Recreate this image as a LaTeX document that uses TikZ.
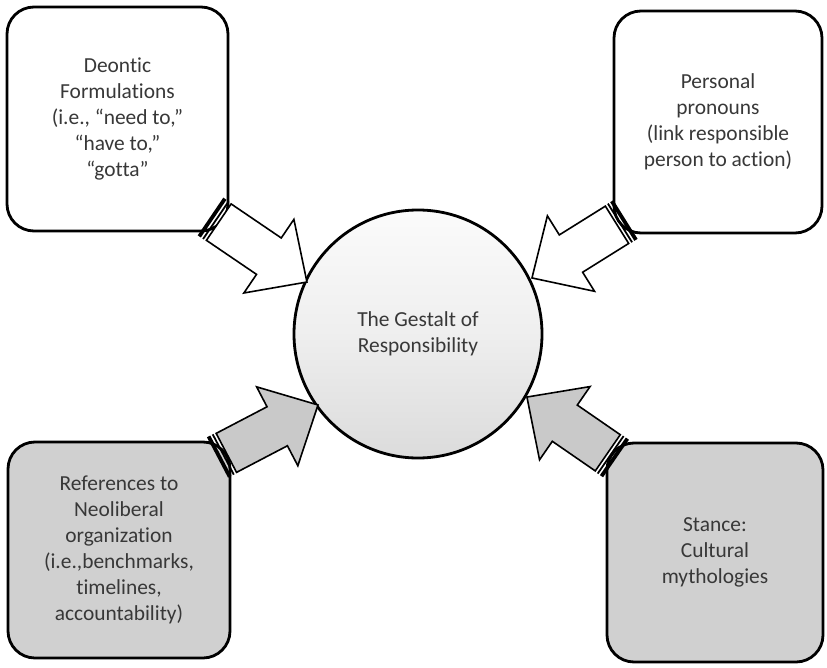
\documentclass[tikz,border=0pt]{standalone}
\usepackage{fontspec}
\setmainfont[RawFeature=-liga]{Carlito}
\definecolor{txtgray}{HTML}{383838}
\definecolor{boxgray}{HTML}{D0D0D0}
\definecolor{arrgray}{HTML}{C9C9C9}
\begin{document}
\begin{tikzpicture}[x=1bp,y=-1bp,
  box/.style={draw=black, line width=2.8bp, rounded corners=27bp, align=center,
    text=txtgray, font=\fontsize{21.5}{26}\selectfont, inner sep=0pt},
  arrowline/.style={draw=black, line width=1.6bp, line join=miter},
  pics/barrow/.style n args={2}{code={
    \fill[black] (0,-22.8) rectangle (3.8,22.8);
    \fill[black] (5.6,-22.8) rectangle (7.4,22.8);
    \draw[arrowline, fill=#2] (10,-22) -- (#1-46,-22) -- (#1-46,-44.5) -- (#1,0)
      -- (#1-46,44.5) -- (#1-46,22) -- (10,22) -- cycle;
  }},
]
\useasboundingbox (0,0) rectangle (827,668);
\fill[white] (0,0) rectangle (827,668);

% central circle
\node[circle, draw=black, line width=2.8bp, minimum size=248bp, inner sep=0pt,
  top color=gray!3, bottom color=gray!28, middle color=gray!13,
  align=center, text=txtgray, font=\fontsize{21.5}{26}\selectfont]
  (gestalt) at (418,334) {The Gestalt of\\Responsibility};

% boxes
\node[box, fill=white, minimum width=221bp, minimum height=224bp]
  (deontic) at (117.5,119) {Deontic\\Formulations\\(i.e., “need to,”\\“have to,”\\“gotta”};
\node[box, fill=white, minimum width=208bp, minimum height=222bp]
  (pronouns) at (718,122) {Personal\\pronouns\\(link responsible\\person to action)};
\node[box, fill=boxgray, minimum width=222bp, minimum height=216bp]
  (neolib) at (119,550) {References to\\Neoliberal\\organization\\(i.e.,benchmarks,\\timelines,\\accountability)};
\node[box, fill=boxgray, minimum width=216bp, minimum height=219bp]
  (stance) at (715,552.5) {Stance:\\Cultural\\mythologies};

% arrow tails
\coordinate (tlTail) at (210.5,216.5);
\coordinate (trTail) at (625.5,219.5);
\coordinate (blTail) at (217.5,457.5);
\coordinate (brTail) at (616,458.5);

% striped block arrows
\pic[rotate=-34.2] at (tlTail) {barrow={116.6}{white}};
\pic[rotate=-148.0] at (trTail) {barrow={110.3}{white}};
\pic[rotate=27.6] at (blTail) {barrow={113.4}{arrgray}};
\pic[rotate=145.4] at (brTail) {barrow={108.2}{arrgray}};
\end{tikzpicture}
\end{document}
